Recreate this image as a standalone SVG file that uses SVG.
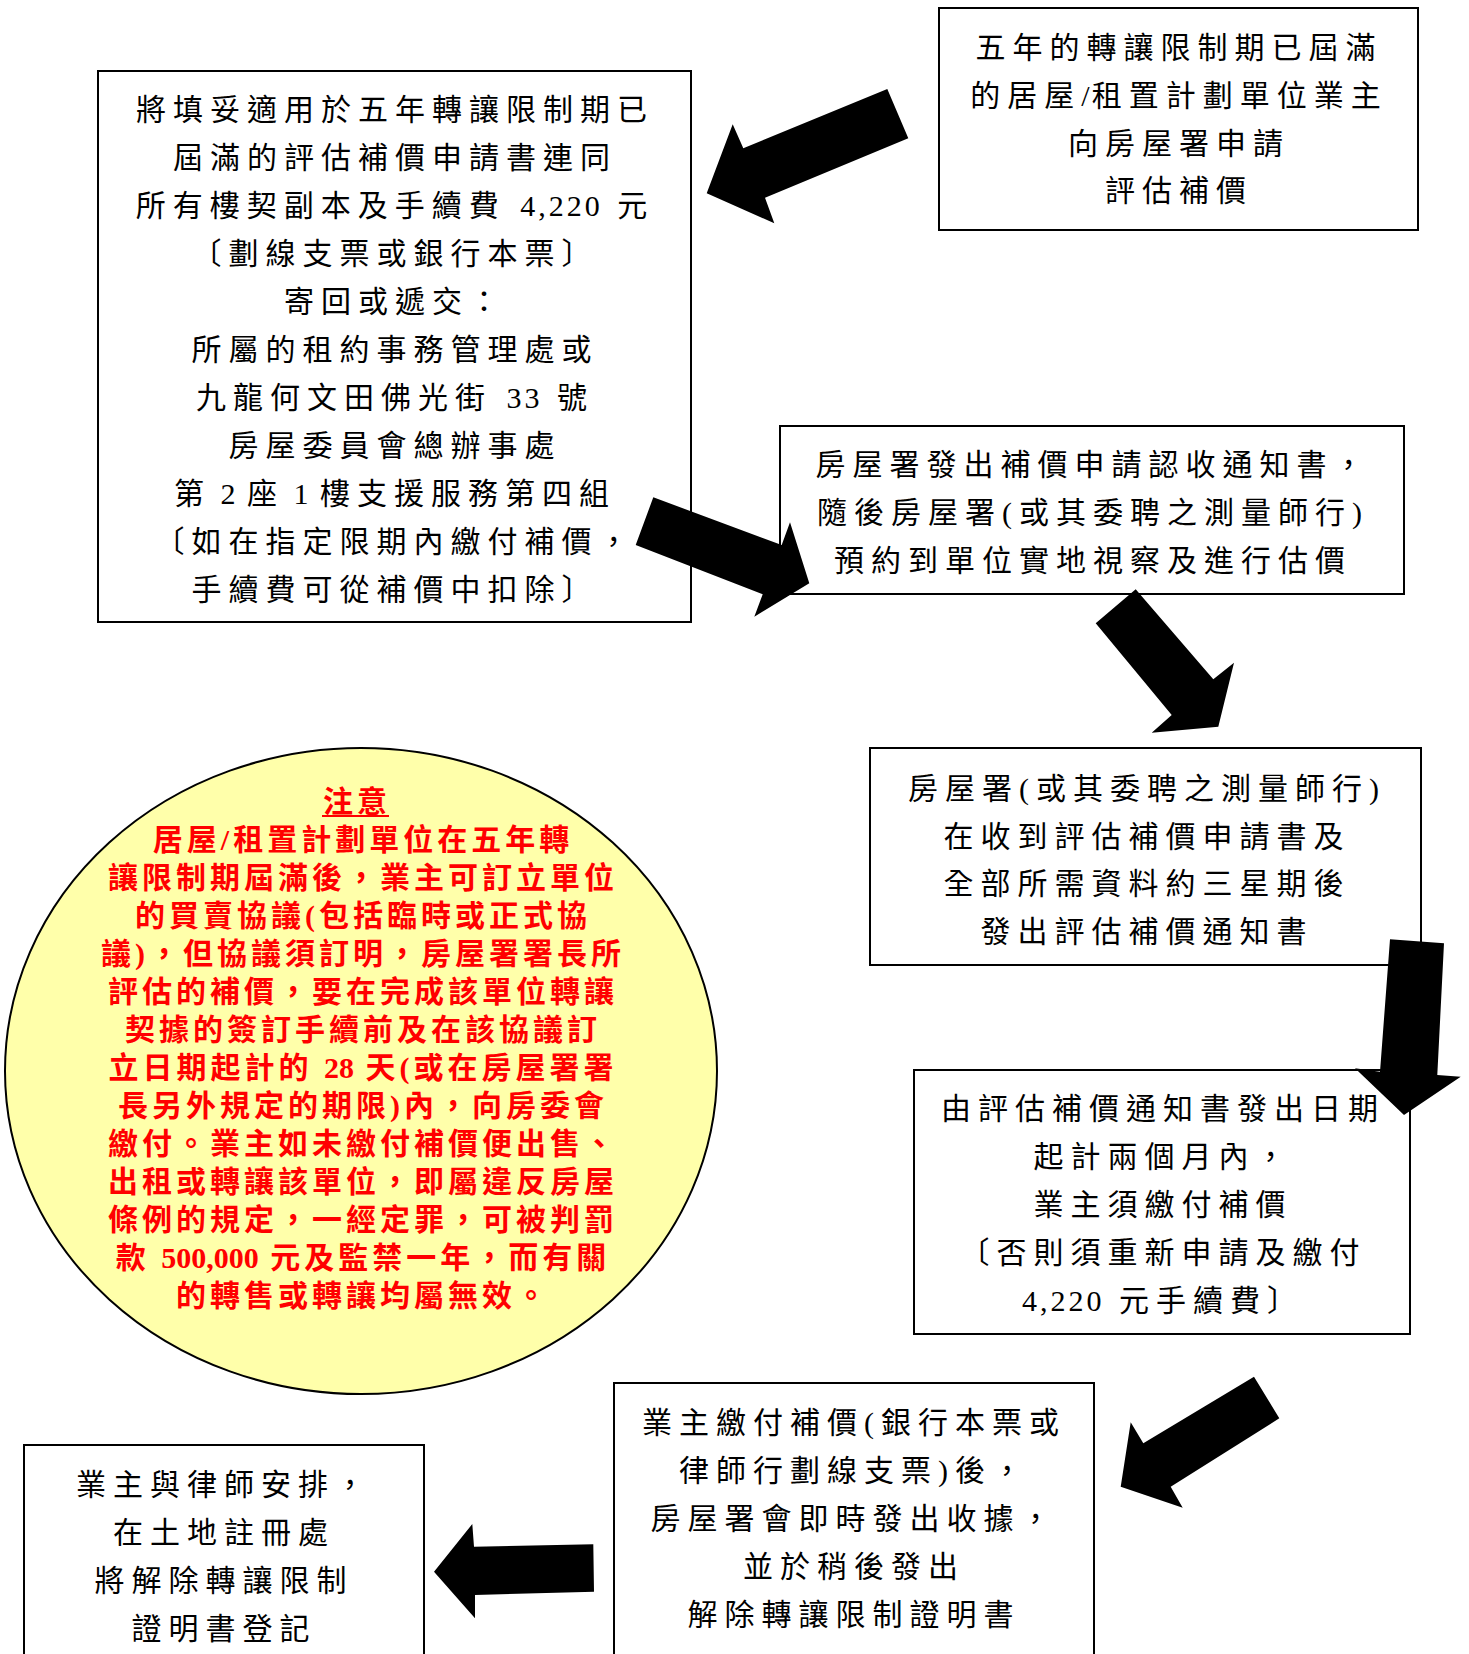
<svg xmlns="http://www.w3.org/2000/svg" width="1469" height="1654" viewBox="0 0 1469 1654">
<style>
.box{fill:#fff;stroke:#000;stroke-width:2}
.t{font-family:"Liberation Serif","Noto Sans CJK TC",serif;font-size:30px;letter-spacing:7px;text-anchor:middle;dominant-baseline:central;fill:#000}
.n{letter-spacing:3px}
.s{letter-spacing:2px}
.d{letter-spacing:0px}
.r{font-family:"Liberation Serif","Noto Sans CJK TC",serif;font-size:30px;font-weight:bold;letter-spacing:4px;text-anchor:middle;dominant-baseline:central;fill:#FF0000}
.arrow{fill:#000;stroke:none}
</style>
<rect width="1469" height="1654" fill="#fff"/>

<g id="node-apply">
<rect class="box" x="939" y="8" width="479" height="222"/>
<text class="t" x="1179" y="47">五年的轉讓限制期已屆滿</text>
<text class="t" x="1179" y="95">的居屋<tspan class="s">/</tspan>租置計劃單位業主</text>
<text class="t" x="1179" y="143">向房屋署申請</text>
<text class="t" x="1179" y="190">評估補價</text>
</g>

<g id="node-submit">
<rect class="box" x="98" y="71" width="593" height="551"/>
<text class="t" x="395" y="109">將填妥適用於五年轉讓限制期已</text>
<text class="t" x="395" y="157">屆滿的評估補價申請書連同</text>
<text class="t" x="395" y="205">所有樓契副本及手續費 <tspan class="n">4,220</tspan> 元</text>
<text class="t" x="395" y="253">〔劃線支票或銀行本票〕</text>
<text class="t" x="395" y="301">寄回或遞交：</text>
<text class="t" x="395" y="349">所屬的租約事務管理處或</text>
<text class="t" x="395" y="397">九龍何文田佛光街 <tspan class="n">33</tspan> 號</text>
<text class="t" x="395" y="445">房屋委員會總辦事處</text>
<text class="t" x="395" y="493">第<tspan class="s"> 2 </tspan>座<tspan class="s"> 1 </tspan>樓支援服務第四組</text>
<text class="t" x="395" y="541">〔如在指定限期內繳付補價，</text>
<text class="t" x="395" y="589">手續費可從補價中扣除〕</text>
</g>

<g id="node-ack">
<rect class="box" x="780" y="426" width="624" height="168"/>
<text class="t" x="1093" y="464">房屋署發出補價申請認收通知書，</text>
<text class="t" x="1093" y="512">隨後房屋署(或其委聘之測量師行)</text>
<text class="t" x="1093" y="560">預約到單位實地視察及進行估價</text>
</g>

<g id="node-notice">
<rect class="box" x="870" y="748" width="551" height="217"/>
<text class="t" x="1147" y="788">房屋署(或其委聘之測量師行)</text>
<text class="t" x="1147" y="836">在收到評估補價申請書及</text>
<text class="t" x="1147" y="883">全部所需資料約三星期後</text>
<text class="t" x="1147" y="931">發出評估補價通知書</text>
</g>

<g id="node-pay-deadline">
<rect class="box" x="914" y="1070" width="496" height="264"/>
<text class="t" x="1163" y="1108">由評估補價通知書發出日期</text>
<text class="t" x="1163" y="1156">起計兩個月內，</text>
<text class="t" x="1163" y="1204">業主須繳付補價</text>
<text class="t" x="1163" y="1252">〔否則須重新申請及繳付</text>
<text class="t" x="1163" y="1300"><tspan class="n">4,220</tspan> 元手續費〕</text>
</g>

<g id="node-paid">
<rect class="box" x="614" y="1383" width="480" height="290"/>
<text class="t" x="854" y="1422">業主繳付補價(銀行本票或</text>
<text class="t" x="854" y="1470">律師行劃線支票)後，</text>
<text class="t" x="854" y="1518">房屋署會即時發出收據，</text>
<text class="t" x="854" y="1566">並於稍後發出</text>
<text class="t" x="854" y="1614">解除轉讓限制證明書</text>
</g>

<g id="node-register">
<rect class="box" x="24" y="1445" width="400" height="230"/>
<text class="t" x="224" y="1484">業主與律師安排，</text>
<text class="t" x="224" y="1532">在土地註冊處</text>
<text class="t" x="224" y="1580">將解除轉讓限制</text>
<text class="t" x="224" y="1628">證明書登記</text>
</g>

<g id="node-note">
<ellipse cx="361" cy="1071" rx="356" ry="323" fill="#FFFFAA" stroke="#000" stroke-width="2"/>
<text class="r" x="357" y="801.5">注意</text>
<line x1="322" y1="816" x2="389" y2="816" stroke="#FF0000" stroke-width="2"/>
<text class="r" x="363" y="839.5">居屋/租置計劃單位在五年轉</text>
<text class="r" x="363" y="877.4">讓限制期屆滿後，業主可訂立單位</text>
<text class="r" x="363" y="915.4">的買賣協議(包括臨時或正式協</text>
<text class="r" x="363" y="953.3">議)，但協議須訂明，房屋署署長所</text>
<text class="r" x="363" y="991.3">評估的補價，要在完成該單位轉讓</text>
<text class="r" x="363" y="1029.3">契據的簽訂手續前及在該協議訂</text>
<text class="r" x="363" y="1067.2">立日期起計的 <tspan class="d">28</tspan> 天(或在房屋署署</text>
<text class="r" x="363" y="1105.2">長另外規定的期限)內，向房委會</text>
<text class="r" x="363" y="1143.1">繳付。業主如未繳付補價便出售、</text>
<text class="r" x="363" y="1181.1">出租或轉讓該單位，即屬違反房屋</text>
<text class="r" x="363" y="1219.1">條例的規定，一經定罪，可被判罰</text>
<text class="r" x="363" y="1257">款 <tspan class="d">500,000</tspan> 元及監禁一年，而有關</text>
<text class="r" x="363" y="1295">的轉售或轉讓均屬無效。</text>
</g>

<g id="connectors">
<polygon class="arrow" points="706.7,193.3 732.7,124.3 743.3,148.3 887.3,89 908.3,138.3 765,197.7 774.3,223.3"/>
<polygon class="arrow" points="809.3,583.3 790,522.3 781.7,545 653.3,497.3 635.7,545 762.7,594.3 754.3,616.7"/>
<polygon class="arrow" points="1218.3,726.7 1151.7,732.7 1171.7,715 1095.7,623.3 1135.7,589.3 1213.3,679.3 1234,662.7"/>
<polygon class="arrow" points="1404,1115 1355,1068.3 1380,1071.7 1390,939.3 1444,943.3 1437.3,1075 1460.7,1076.7"/>
<polygon class="arrow" points="1120.7,1486.7 1130.7,1422.3 1143.3,1443.3 1254,1376.7 1279.3,1418.3 1170.7,1486.7 1182.7,1507.7"/>
<polygon class="arrow" points="434,1571.7 472.3,1524 474,1546.7 593.3,1544.3 594,1591.7 475,1595 475,1618.3"/>
</g>
</svg>
